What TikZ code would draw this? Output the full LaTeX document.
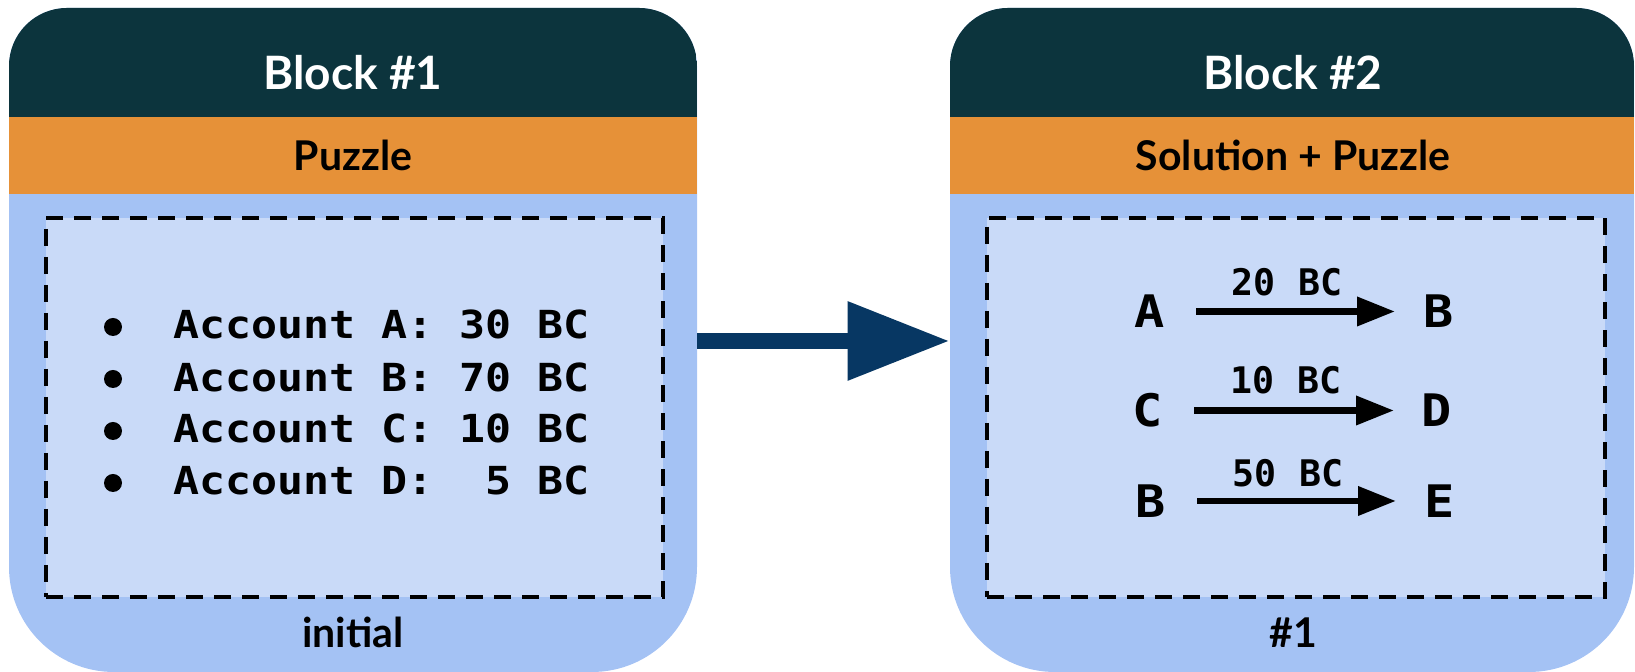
\documentclass[tikz,border=0pt]{standalone}
\usepackage{fontspec}
\usetikzlibrary{arrows.meta}
\newfontfamily\hfont{Lato Bold}
\newfontfamily\monoA{DejaVu Sans Mono Bold}[FakeStretch=1.12]
\newfontfamily\monoB{DejaVu Sans Mono Bold}
\definecolor{hdr}{HTML}{0C343D}
\definecolor{org}{HTML}{E69138}
\definecolor{bodyc}{HTML}{A4C2F4}
\definecolor{innerc}{HTML}{C9DAF8}
\definecolor{arrowc}{HTML}{073763}
\newcommand\blkoutline[2]{(#1,105) -- (#1,606) arc[start angle=180,end angle=90,radius=58] -- (#2-58,664) arc[start angle=90,end angle=0,radius=58] -- (#2,105) arc[start angle=0,end angle=-90,radius=105] -- (#1+105,0) arc[start angle=270,end angle=180,radius=105] -- cycle}
\begin{document}
\begin{tikzpicture}[x=0.5pt,y=0.5pt,
  hdrtext/.style={font=\hfont\fontsize{23}{27}\selectfont, text=white, inner sep=0, anchor=base},
  subtext/.style={font=\hfont\fontsize{20.5}{24}\selectfont, inner sep=0, anchor=base},
  acct/.style={font=\monoA\fontsize{19.3}{23}\selectfont\frenchspacing, inner sep=0, anchor=base west},
  letter/.style={font=\monoA\fontsize{22.4}{26}\selectfont, inner sep=0},
  amt/.style={font=\monoB\fontsize{18.3}{22}\selectfont\frenchspacing, inner sep=0, anchor=base},
  bulletdot/.style={circle, fill=black, inner sep=0, minimum size=9pt},
  dashbox/.style={fill=innerc, draw=black, line width=2.2pt, dash pattern=on 8.3pt off 5.7pt, inner sep=0},
  bigarrow/.style={draw=arrowc, line width=8pt, -{Triangle[length=51pt,width=37.5pt]}},
  txarrow/.style={draw=black, line width=3.4pt, -{Triangle[length=19pt,width=14pt]}},
  blockarea/.style={inner sep=0, draw=none}
]
\useasboundingbox (0,0) rectangle (1635,672);

% ---- Block 1 ----
\fill[bodyc] \blkoutline{9}{697};
\begin{scope}
  \clip \blkoutline{9}{697};
  \fill[hdr] (9,555) rectangle (697,672);
  \fill[org] (9,478) rectangle (697,555);
\end{scope}
\node[blockarea, minimum width=344pt, minimum height=332pt] (b1) at (353,332) {};
\node[dashbox, minimum width=308.5pt, minimum height=189.5pt] (box1) at (354.5,264.5) {};
\node[hdrtext] (t1) at (353,582) {Block \#1};
\node[subtext] (s1) at (353,501) {Puzzle};
\node[subtext] (f1) at (353,24) {initial};

\node[bulletdot] (d1) at (113,345) {};
\node[bulletdot] (d2) at (113,293) {};
\node[bulletdot] (d3) at (113,241) {};
\node[bulletdot] (d4) at (113,189) {};
\node[acct] (a1) at (173,333) {Account A: 30 BC};
\node[acct] (a2) at (173,280) {Account B: 70 BC};
\node[acct] (a3) at (173,229) {Account C: 10 BC};
\node[acct] (a4) at (173,177) {Account D:\ \ 5 BC};

% ---- Block 2 ----
\fill[bodyc] \blkoutline{950}{1634};
\begin{scope}
  \clip \blkoutline{950}{1634};
  \fill[hdr] (950,555) rectangle (1634,672);
  \fill[org] (950,478) rectangle (1634,555);
\end{scope}
\node[blockarea, minimum width=342pt, minimum height=332pt] (b2) at (1292,332) {};
\node[dashbox, minimum width=309pt, minimum height=189.5pt] (box2) at (1296,264.5) {};
\node[hdrtext] (t2) at (1293,582) {Block \#2};
\node[subtext] (s2) at (1293,501) {Solution + Puzzle};
\node[subtext] (f2) at (1293,24) {\#1};

\node[letter] (pA) at (1150,360.5) {A};
\node[letter] (pB) at (1439,360.5) {B};
\node[letter] (pC) at (1148,261.5) {C};
\node[letter] (pD) at (1437,261.5) {D};
\node[letter] (pB2) at (1151,171) {B};
\node[letter] (pE) at (1440,171) {E};

\draw[txarrow, shorten <=23pt, shorten >=22pt] (pA.center) -- (pB.center);
\draw[txarrow, shorten <=23pt, shorten >=21.5pt] (pC.center) -- (pD.center);
\draw[txarrow, shorten <=23pt, shorten >=22pt] (pB2.center) -- (pE.center);

\node[amt] (m1) at (1287,376) {20 BC};
\node[amt] (m2) at (1286,278) {10 BC};
\node[amt] (m3) at (1288,185.3) {50 BC};

% ---- connector ----
\coordinate (ay) at (0,331);
\draw[bigarrow] (b1.east |- ay) -- (b2.west |- ay);
\end{tikzpicture}
\end{document}
